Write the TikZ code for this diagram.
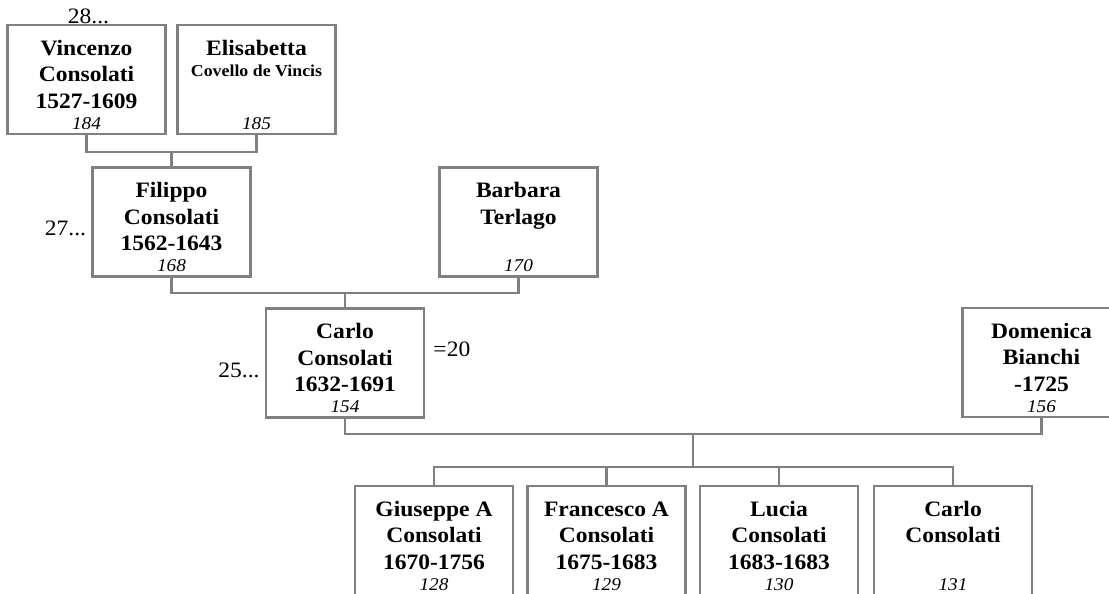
\documentclass[tikz,border=0pt]{standalone}
\usepackage{fontspec}
\setmainfont[FakeStretch=1.07]{Liberation Serif}
\usetikzlibrary{calc}
\definecolor{rahmen}{RGB}{128,128,128}
\newcommand{\ahn}[2]{\parbox[c][81.75pt][t]{118pt}{\centering\rule{0pt}{22.5pt}#1\par\vfill
	\fontsize{13.5}{14}\selectfont\mdseries\itshape #2\rule[-3.5pt]{0pt}{3.5pt}\par}}

\begin{document}
\begin{tikzpicture}[x=0.75pt, y=-0.75pt,
	person/.style={draw=rahmen, line width=1.8pt, rectangle, inner sep=0pt, minimum width=118.5pt, minimum height=81.75pt, font={\fontsize{16.5}{20}\selectfont\bfseries}},
	link/.style={draw=rahmen, line width=1.8pt},
	gen/.style={inner sep=0pt, font={\fontsize{16.5}{20}\selectfont}}]
	\clip (0,0) rectangle (1109,593);
	% generation 28
	\node[person] (Vincenzo) at (86.5, 79.5) {\ahn{Vincenzo\\Consolati\\1527-1609}{184}};
	\node[person] (Elisabetta) at (256.5, 79.5) {\ahn{Elisabetta\\[-4pt]{\fontsize{12.5}{14}\selectfont Covello de Vincis}}{185}};
	% generation 27
	\node[person] (Filippo) at (171.5, 222) {\ahn{Filippo\\Consolati\\1562-1643}{168}};
	\node[person] (Barbara) at (518.5, 222) {\ahn{Barbara\\Terlago}{170}};
	% generation 25
	\node[person] (Carlo) at (345, 363) {\ahn{Carlo\\Consolati\\1632-1691}{154}};
	\node[person] (Domenica) at (1041.5, 362.5) {\ahn{Domenica\\Bianchi\\-1725}{156}};
	% children
	\node[person] (Giuseppe) at (434, 540.5) {\ahn{Giuseppe A\\Consolati\\1670-1756}{128}};
	\node[person] (Francesco) at (606.5, 540.5) {\ahn{Francesco A\\Consolati\\1675-1683}{129}};
	\node[person] (Lucia) at (779, 540.5) {\ahn{Lucia\\Consolati\\1683-1683}{130}};
	\node[person] (Carlo2) at (953, 540.5) {\ahn{Carlo\\Consolati}{131}};
	% generation marks
	\node[gen, anchor=base] (g28) at ($(Vincenzo.north)+(2,0)$) {28...};
	\node[gen, anchor=base east] (g27) at ($(Filippo.west)+(-5,13)$) {27...};
	\node[gen, anchor=base east] (g25) at ($(Carlo.west)+(-5,14)$) {25...};
	\node[gen, anchor=base west] (g20) at ($(Carlo.east)+(8,-7)$) {=20};
	% lines
	\draw[link] (Vincenzo.south) -- ++(0,17) coordinate (v1) -| (Elisabetta.south);
	\draw[link] ($(v1)!0.5!(v1 -| Elisabetta.south)$) -- (Filippo.north);
	\draw[link] (Filippo.south) -- ++(0,15) coordinate (v2) -| (Barbara.south);
	\draw[link] ($(v2)!0.5!(v2 -| Barbara.south)$) -- (Carlo.north);
	\draw[link] (Carlo.south) -- ++(0,15) coordinate (v3) -| (Domenica.south);
	\draw[link] ($(v3)!0.5!(v3 -| Domenica.south)$) -- ++(0,33) coordinate (k3);
	\foreach \k in {Giuseppe,Francesco,Lucia,Carlo2}
		\draw[link] (k3) -| (\k.north);
\end{tikzpicture}
\end{document}
